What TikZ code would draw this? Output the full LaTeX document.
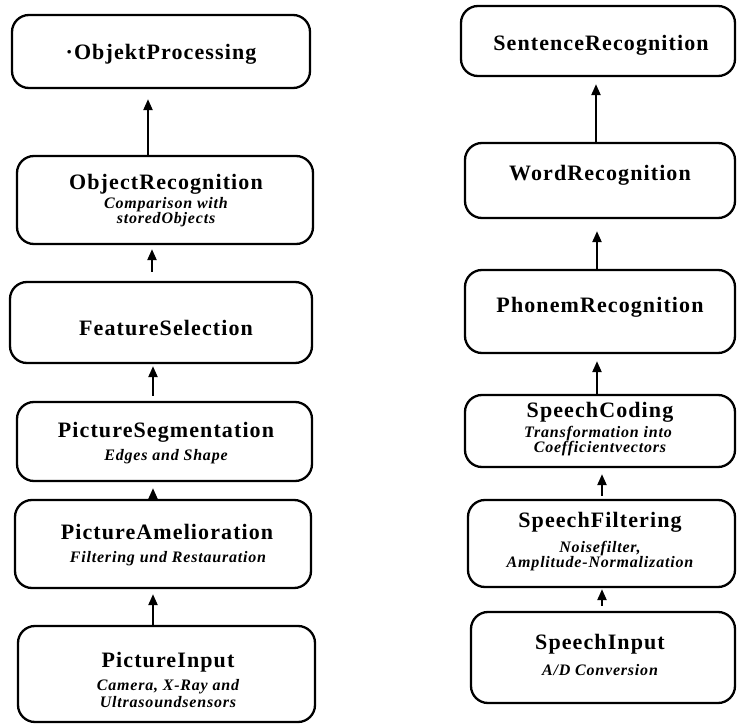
\documentclass[tikz,border=0pt]{standalone}
\usepackage{fontspec}
\setmainfont{Liberation Serif}
\newfontfamily\lsfont[LetterSpace=5]{Liberation Serif}
\usetikzlibrary{arrows.meta}
\begin{document}
\begin{tikzpicture}[x=1pt,y=-1pt,
  blk/.style={draw, line width=2.3pt, rounded corners=17pt, inner sep=0pt},
  ttl/.style={font=\lsfont\bfseries\fontsize{22}{24}\selectfont, inner sep=0pt, text height=15pt, text depth=0pt},
  sub/.style={font=\lsfont\bfseries\itshape\fontsize{16}{18}\selectfont, inner sep=0pt, text height=10.6pt, text depth=0pt},
  arr/.style={line width=2.2pt, -{Triangle[width=9pt,length=11pt]}}]
\useasboundingbox (0,0) rectangle (737,725);
% left column boxes
\node[blk, minimum width=298pt, minimum height=73pt] (b1) at (161,51.5) {};
\node[blk, minimum width=296pt, minimum height=88pt] (b2) at (165,200) {};
\node[blk, minimum width=302pt, minimum height=81pt] (b3) at (161,322.5) {};
\node[blk, minimum width=295pt, minimum height=79pt] (b4) at (164.5,441.5) {};
\node[blk, minimum width=296pt, minimum height=88pt] (b5) at (163,544) {};
\node[blk, minimum width=297pt, minimum height=96pt] (b6) at (166.5,674) {};
% right column boxes
\node[blk, minimum width=274pt, minimum height=70pt] (r1) at (598,41) {};
\node[blk, minimum width=270pt, minimum height=75pt] (r2) at (600,180.5) {};
\node[blk, minimum width=270pt, minimum height=83pt] (r3) at (600,311.5) {};
\node[blk, minimum width=270pt, minimum height=72pt] (r4) at (600,431) {};
\node[blk, minimum width=267pt, minimum height=87pt] (r5) at (601.5,543.5) {};
\node[blk, minimum width=264pt, minimum height=91pt] (r6) at (603,657.5) {};
% left texts
\node[ttl] (tb1) at (161,52) {·ObjektProcessing};
\node[ttl] (tb2) at (166,182) {ObjectRecognition};
\node[sub] (sb2a) at (166,203) {Comparison with};
\node[sub] (sb2b) at (166,218) {storedObjects};
\node[ttl] (tb3) at (166,328) {FeatureSelection};
\node[ttl] (tb4) at (166,430) {PictureSegmentation};
\node[sub] (sb4) at (166,455) {Edges and Shape};
\node[ttl] (tb5) at (167,532) {PictureAmelioration};
\node[sub] (sb5) at (168,557) {Filtering und Restauration};
\node[ttl] (tb6) at (168,660) {PictureInput};
\node[sub] (sb6a) at (168,685) {Camera, X-Ray and};
\node[sub] (sb6b) at (168,702) {Ultrasoundsensors};
% right texts
\node[ttl] (tr1) at (601,43) {SentenceRecognition};
\node[ttl] (tr2) at (600,173) {WordRecognition};
\node[ttl] (tr3) at (600,305) {PhonemRecognition};
\node[ttl] (tr4) at (600,410) {SpeechCoding};
\node[sub] (sr4a) at (598,432) {Transformation into};
\node[sub] (sr4b) at (600,447) {Coefficientvectors};
\node[ttl] (tr5) at (600,520) {SpeechFiltering};
\node[sub] (sr5a) at (600,547) {Noisefilter,};
\node[sub] (sr5b) at (600,562) {Amplitude-Normalization};
\node[ttl] (tr6) at (600,642) {SpeechInput};
\node[sub] (sr6) at (600,670) {A/D Conversion};
% arrow columns
\coordinate (xa1) at (148,0);
\coordinate (xa2) at (152,0);
\coordinate (xa3) at (153,0);
\coordinate (xc1) at (596,0);
\coordinate (xc2) at (597,0);
\coordinate (xc4) at (602,0);
% left arrows
\draw[arr, shorten >=10pt] (b2.north -| xa1) -- (b1.south -| xa1);
\draw[arr, shorten <=9pt, shorten >=4pt] (b3.north -| xa2) -- (b2.south -| xa2);
\draw[arr, shorten <=5pt, shorten >=2pt] (b4.north -| xa3) -- (b3.south -| xa3);
\draw[arr, shorten <=3pt, shorten >=6pt] (b5.north -| xa3) -- (b4.south -| xa3);
\draw[arr, shorten >=5pt] (b6.north -| xa3) -- (b5.south -| xa3);
% right arrows
\draw[arr, shorten >=7pt] (r2.north -| xc1) -- (r1.south -| xc1);
\draw[arr, shorten >=12pt] (r3.north -| xc2) -- (r2.south -| xc2);
\draw[arr, shorten >=7pt] (r4.north -| xc2) -- (r3.south -| xc2);
\draw[arr, shorten <=3pt, shorten >=6pt] (r5.north -| xc4) -- (r4.south -| xc4);
\draw[arr, shorten <=5pt, shorten >=1pt] (r6.north -| xc4) -- (r5.south -| xc4);
\end{tikzpicture}
\end{document}
